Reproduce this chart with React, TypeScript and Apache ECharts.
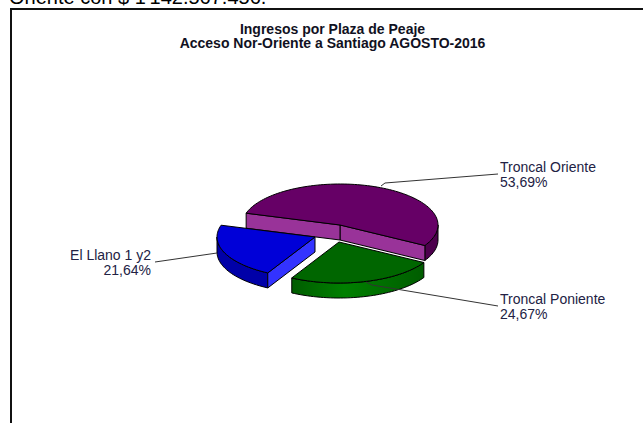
import React, { useEffect, useRef } from "react";
import * as echarts from "echarts";

const categories = ["Troncal Oriente", "El Llano 1 y2", "Troncal Poniente"];
const shares = [53.69, 21.64, 24.67];
const percentLabels = ["53,69%", "21,64%", "24,67%"];
const titleLines = ["Ingresos por Plaza de Peaje", "Acceso Nor-Oriente a Santiago AGOSTO-2016"];
const clippedHeading = "Oriente con $ 1'142.567.456.";

const RX = 98;
const RY = 41;
const DEPTH = 15;
const START_DEG = -30;
const apex = [
  [340, 225],
  [315, 237],
  [339, 242],
];
const palette = [
  { top: "#660066", cut: "#993399", wall: "#4d004d" },
  { top: "#0000d8", cut: "#3333ff", wall: "#0000a8" },
  { top: "#006600", cut: "#006600", wall: "#007400" },
];
const leaders = [
  [[381, 186], [385, 183], [498, 174]],
  [[217, 253], [155, 262]],
  [[366, 282], [372, 285], [498, 306]],
];
const labelAnchors = [
  { x: 500, y: 174, align: "left" },
  { x: 151, y: 262, align: "right" },
  { x: 500, y: 306, align: "left" },
];

const total = shares.reduce((a, b) => a + b, 0);

function point(cx: number, cy: number, deg: number) {
  const r = (deg * Math.PI) / 180;
  return [cx + RX * Math.cos(r), cy - RY * Math.sin(r)];
}

function arcPoints(cx: number, cy: number, a0: number, a1: number) {
  const pts: number[][] = [];
  const n = Math.max(2, Math.ceil(Math.abs(a1 - a0) / 2));
  for (let i = 0; i <= n; i++) pts.push(point(cx, cy, a0 + ((a1 - a0) * i) / n));
  return pts;
}

function lower(pts: number[][]) {
  return pts.map((p) => [p[0], p[1] + DEPTH]);
}

function renderSlice(params: any, api: any) {
  const i = params.dataIndex;
  const before = shares.slice(0, i).reduce((a, b) => a + b, 0);
  const a0 = START_DEG + (before / total) * 360;
  const a1 = a0 + (api.value(1) / total) * 360;
  const [cx, cy] = apex[i];
  const c = palette[i];
  const poly = (pts: number[][], fill: any) => ({
    type: "polygon",
    shape: { points: pts },
    style: { fill, stroke: "#000", lineWidth: 1 },
  });
  const children: any[] = [];
  // the rim shows only where it faces the viewer: the lower half of the ellipse
  for (const [s, e] of [
    [-180, 0],
    [180, 360],
  ]) {
    const from = Math.max(a0, s);
    const to = Math.min(a1, e);
    if (to <= from) continue;
    const rim = arcPoints(cx, cy, from, to);
    const fill =
      i === 2
        ? {
            type: "linear",
            x: 0,
            y: 0,
            x2: 1,
            y2: 0,
            colorStops: [
              { offset: 0, color: "#005c00" },
              { offset: 0.4, color: "#008000" },
              { offset: 1, color: "#005c00" },
            ],
          }
        : c.wall;
    children.push(poly([...rim, ...lower(rim).reverse()], fill));
  }
  const apexLow = [cx, cy + DEPTH];
  const pA = point(cx, cy, a0);
  const pB = point(cx, cy, a1);
  const cutFace = (p: number[]) => poly([[cx, cy], p, [p[0], p[1] + DEPTH], apexLow], c.cut);
  // cut faces that look toward the viewer
  if (i === 0) children.push(cutFace(pA), cutFace(pB));
  if (i === 1) children.push(cutFace(pB));
  children.push(poly([[cx, cy], ...arcPoints(cx, cy, a0, a1)], c.top));
  return { type: "group", children };
}

function renderLabel(params: any) {
  const i = params.dataIndex;
  const a = labelAnchors[i];
  return {
    type: "group",
    children: [
      {
        type: "polyline",
        shape: { points: leaders[i] },
        style: { stroke: "#333", lineWidth: 1, fill: "none" },
      },
      {
        type: "text",
        x: a.x,
        y: a.y - 14,
        style: {
          text: `${categories[i]}\n${percentLabels[i]}`,
          font: '14px "Liberation Sans", Arial, sans-serif',
          fill: "#222244",
          align: a.align,
          verticalAlign: "top",
          lineHeight: 14.5,
        },
      },
    ],
  };
}

export default function App() {
  const ref = useRef<HTMLDivElement>(null);
  useEffect(() => {
    const chart = echarts.init(ref.current!, undefined, { renderer: "svg" });
    const seriesData = shares.map((v, i) => ({ name: categories[i], value: [i, v] }));
    chart.setOption({
      animation: false,
      backgroundColor: "#fff",
      title: {
        text: titleLines.join("\n"),
        left: 327.5,
        top: 17,
        textAlign: "center",
        textStyle: {
          fontFamily: '"Liberation Sans", Arial, sans-serif',
          fontSize: 14,
          fontWeight: "bold",
          color: "#111122",
          lineHeight: 14,
        },
      },
      graphic: [
        {
          type: "text",
          x: 9,
          y: -13,
          style: {
            text: clippedHeading,
            font: '20px "Liberation Sans", Arial, sans-serif',
            fill: "#000",
          },
        },
        { type: "line", shape: { x1: 11, y1: 9, x2: 643, y2: 9 }, style: { stroke: "#111", lineWidth: 2 } },
        { type: "line", shape: { x1: 11, y1: 8, x2: 11, y2: 423 }, style: { stroke: "#111", lineWidth: 2 } },
      ],
      series: [
        {
          type: "custom",
          coordinateSystem: "none",
          renderItem: renderSlice,
          data: seriesData,
          silent: true,
          z: 2,
        },
        {
          type: "custom",
          coordinateSystem: "none",
          renderItem: renderLabel,
          data: seriesData,
          silent: true,
          z: 3,
        },
      ],
    });
    return () => chart.dispose();
  }, []);
  return <div ref={ref} style={{ position: "fixed", left: 0, top: 0, width: 643, height: 423 }} />;
}
